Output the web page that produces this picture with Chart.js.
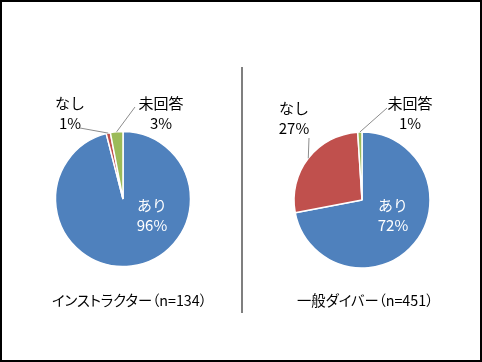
<!DOCTYPE html>
<html>
<head>
<meta charset="utf-8">
<script src="https://cdn.jsdelivr.net/npm/chart.js@4/dist/chart.umd.min.js"></script>
<style>
  html, body { margin: 0; padding: 0; background: #fff; }
  #frame { position: relative; width: 478px; height: 358px; border: 2px solid #000; overflow: hidden; }
  canvas { position: absolute; top: -2px; }
  #sep { position: absolute; left: 239px; top: 65px; width: 1.5px; height: 246px; background: #7f7f7f; }
  .titulo { position: absolute; top: 287px; font-family: "Noto Sans CJK JP", sans-serif; font-size: 14.3px;
            color: #000; font-feature-settings: "palt"; white-space: nowrap; }
</style>
</head>
<body>
<div id="frame">
  <canvas id="chartInstructor" width="241" height="362" style="left:-2px"></canvas>
  <canvas id="chartDiver" width="241" height="362" style="left:239px"></canvas>
  <div id="sep"></div>
  <div class="titulo" id="titulo0" style="left:50px"></div>
  <div class="titulo" id="titulo1" style="left:295px"></div>
</div>
<script>
// datos
const categories = ['あり', 'なし', '未回答'];
const instructorValues = [96, 1, 3];
const diverValues = [72, 27, 1];
const groupTitles = ['インストラクター（n=134）', '一般ダイバー（n=451）'];
const colores = ['#4f81bd', '#c0504d', '#9bbb59'];

// posiciones de etiquetas relativas al centro del pastel
const labelPos = [
    [{ x: 29, y: 6, inside: true }, { x: -53, y: -96, lx: -43, ly: -71 }, { x: 38, y: -96, lx: 12, ly: -92 }],
    [{ x: 31, y: 5, inside: true }, { x: -68, y: -92, lx: -53, ly: -62 }, { x: 48, y: -97, lx: 25, ly: -92 }]
];
// centro local (x, y) y radio de cada pastel
const pies = [{ cx: 123, cy: 199, r: 67.5 }, { cx: 121, cy: 200, r: 68 }];

const fuente = '"Noto Sans CJK JP", sans-serif';

const etiquetas = {
    id: 'etiquetas',
    afterDatasetsDraw(chart) {
        const idx = chart.options.plugins.etiquetas.idx;
        const ctx = chart.ctx;
        const meta = chart.getDatasetMeta(0);
        const valores = chart.data.datasets[0].data;
        ctx.save();
        ctx.font = '15px ' + fuente;
        ctx.textAlign = 'center';
        ctx.textBaseline = 'middle';
        meta.data.forEach((arc, i) => {
            const p = labelPos[idx][i];
            const cx = arc.x, cy = arc.y;
            if (!p.inside) {
                const mid = (arc.startAngle + arc.endAngle) / 2;
                const ex = cx + Math.cos(mid) * arc.outerRadius;
                const ey = cy + Math.sin(mid) * arc.outerRadius;
                ctx.strokeStyle = '#8c8c8c';
                ctx.lineWidth = 1;
                ctx.beginPath();
                ctx.moveTo(cx + p.lx, cy + p.ly);
                ctx.lineTo(ex, ey);
                ctx.stroke();
            }
            ctx.fillStyle = p.inside ? '#ffffff' : '#000000';
            ctx.fillText(categories[i], cx + p.x, cy + p.y);
            ctx.fillText(valores[i] + '%', cx + p.x, cy + p.y + 20);
        });
        ctx.restore();
    }
};

const crearPastel = (canvasId, valores, idx) => {
    const pie = pies[idx];
    const lado = pie.r + 0.75;
    return new Chart(document.getElementById(canvasId), {
        type: 'pie',
        data: {
            labels: categories,
            datasets: [{
                data: valores,
                backgroundColor: colores,
                borderColor: '#ffffff',
                borderWidth: 1.5
            }]
        },
        options: {
            responsive: false,
            animation: false,
            layout: {
                padding: {
                    left: pie.cx - lado,
                    right: 241 - (pie.cx + lado),
                    top: pie.cy - lado,
                    bottom: 362 - (pie.cy + lado)
                }
            },
            plugins: {
                legend: { display: false },
                tooltip: { enabled: false },
                etiquetas: { idx: idx }
            }
        },
        plugins: [etiquetas]
    });
};

document.getElementById('titulo0').textContent = groupTitles[0];
document.getElementById('titulo1').textContent = groupTitles[1];
crearPastel('chartInstructor', instructorValues, 0);
crearPastel('chartDiver', diverValues, 1);
</script>
</body>
</html>
